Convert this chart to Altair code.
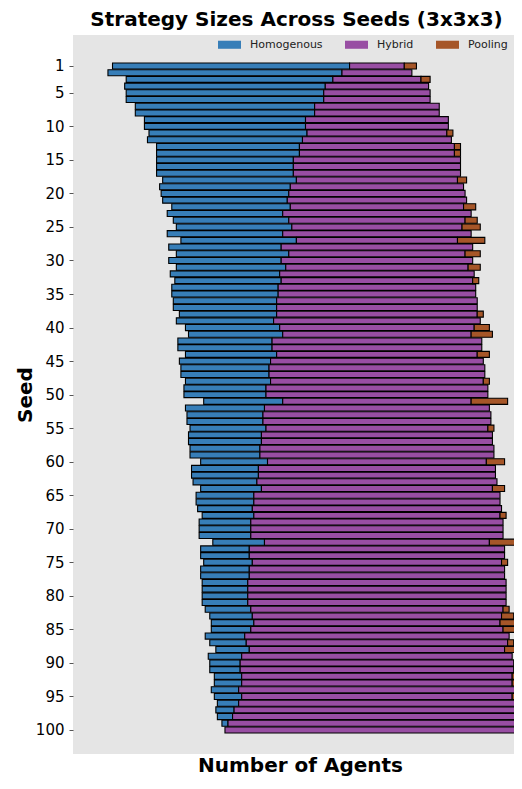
import altair as alt
import pandas as pd

seeds = list(range(1, 101))
homogenous = [78, 77, 68, 66, 65, 65, 59, 59, 53, 53,
              52, 51, 47, 47, 45, 45, 45, 44, 43, 42,
              41, 39, 38, 38, 38, 38, 38, 37, 37, 37,
              36, 36, 35, 35, 35, 34, 34, 32, 32, 31,
              31, 31, 31, 30, 30, 29, 29, 28, 27, 27,
              26, 26, 25, 25, 25, 24, 24, 23, 23, 22,
              22, 22, 21, 20, 19, 19, 18, 17, 17, 17,
              17, 17, 16, 16, 16, 16, 16, 15, 15, 15,
              15, 15, 14, 14, 13, 13, 12, 11, 11, 10,
              10, 9, 9, 9, 9, 7, 6, 5, 2, 0]
hybrid = [18, 23, 29, 34, 35, 35, 41, 41, 47, 47,
          46, 49, 51, 51, 55, 55, 55, 53, 57, 58,
          59, 57, 62, 58, 56, 62, 53, 63, 58, 63,
          60, 64, 63, 65, 65, 66, 66, 66, 68, 64,
          62, 69, 69, 66, 70, 71, 71, 70, 73, 73,
          62, 74, 75, 75, 73, 76, 76, 77, 77, 72,
          78, 78, 79, 76, 81, 81, 82, 81, 83, 83,
          83, 74, 84, 84, 82, 84, 84, 85, 85, 85,
          85, 83, 82, 81, 83, 87, 86, 84, 89, 90,
          90, 89, 89, 91, 89, 91, 94, 95, 98, 100]
pooling = [4, 0, 3, 0, 0, 0, 0, 0, 0, 0,
           2, 0, 2, 2, 0, 0, 0, 3, 0, 0,
           0, 4, 0, 4, 6, 0, 9, 0, 5, 0,
           4, 0, 2, 0, 0, 0, 0, 2, 0, 5,
           7, 0, 0, 4, 0, 0, 0, 2, 0, 0,
           12, 0, 0, 0, 2, 0, 0, 0, 0, 6,
           0, 0, 0, 4, 0, 0, 0, 2, 0, 0,
           0, 9, 0, 0, 2, 0, 0, 0, 0, 0,
           0, 2, 4, 5, 4, 0, 2, 5, 0, 0,
           0, 2, 2, 0, 2, 2, 0, 0, 0, 0]
categories = ["Homogenous", "Hybrid", "Pooling"]
colors = ["#377eb8", "#984ea3", "#a65628"]
seed_ticks = [1, 5, 10, 15, 20, 25, 30, 35, 40, 45, 50,
              55, 60, 65, 70, 75, 80, 85, 90, 95, 100]

rows = []
for s, h, y, p in zip(seeds, homogenous, hybrid, pooling):
    half = y / 2
    segs = [("Homogenous", -half - h, -half, h),
            ("Hybrid", -half, half, y),
            ("Pooling", half, half + p, p)]
    for cat, a, b, v in segs:
        if v > 0:
            rows.append(dict(seed=s, strategy=cat, start=a, end=b, count=v,
                             k=categories.index(cat), y0=s - 0.45, y1=s + 0.45))
df = pd.DataFrame(rows).sort_values(["k", "seed"]).reset_index(drop=True)

W = 441
H = 719

bars = alt.Chart(df).mark_rect(stroke="black", strokeWidth=1.1, clip=True).encode(
    x=alt.X("start:Q",
            scale=alt.Scale(domain=[-100, 45.1], nice=False, zero=False),
            axis=alt.Axis(labels=False, ticks=False, domain=False, grid=False,
                          title="Number of Agents", titleFontSize=20,
                          titleFontWeight="bold", titleColor="black",
                          titleBaseline="alphabetic", titleAlign="center",
                          titleX=227, titleY=17)),
    x2="end:Q",
    y=alt.Y("y0:Q",
            scale=alt.Scale(domain=[-3.62, 103.58], reverse=True, nice=False, zero=False),
            axis=alt.Axis(values=seed_ticks, labelFontSize=15, labelColor="black",
                          tickSize=4, tickColor="#555555", labelPadding=5,
                          domain=False, grid=False, title="Seed",
                          titleFontSize=20, titleFontWeight="bold", titleColor="black",
                          titleX=-42, titleY=H / 2, titleAlign="center",
                          titleBaseline="alphabetic", titleAngle=270)),
    y2="y1:Q",
    color=alt.Color("strategy:N",
                    scale=alt.Scale(domain=categories, range=colors),
                    legend=alt.Legend(orient="none", legendX=145, legendY=-2,
                                      direction="horizontal", title=None,
                                      symbolType="M-1,-0.35H1V0.35H-1Z",
                                      symbolSize=529, symbolStrokeWidth=0,
                                      symbolOpacity=1, labelFontSize=11,
                                      labelColor="#222222", labelOffset=9,
                                      columnPadding=22, padding=0)),
    tooltip=["seed:Q", "strategy:N", "count:Q"],
).properties(
    width=W,
    height=H,
    title=alt.TitleParams("Strategy Sizes Across Seeds (3x3x3)", fontSize=20,
                          fontWeight="bold", anchor="middle", baseline="alphabetic",
                          frame="group", offset=5, dx=3, dy=18, color="black"),
    autosize=alt.AutoSizeParams(type="none"),
    padding={"left": 65, "top": 27, "right": 0, "bottom": 22},
)

chart = bars.configure(font="DejaVu Sans").configure_view(fill="#E5E5E5", strokeWidth=0)

chart.save("out.html", embed_options={"renderer": "svg", "actions": False})
